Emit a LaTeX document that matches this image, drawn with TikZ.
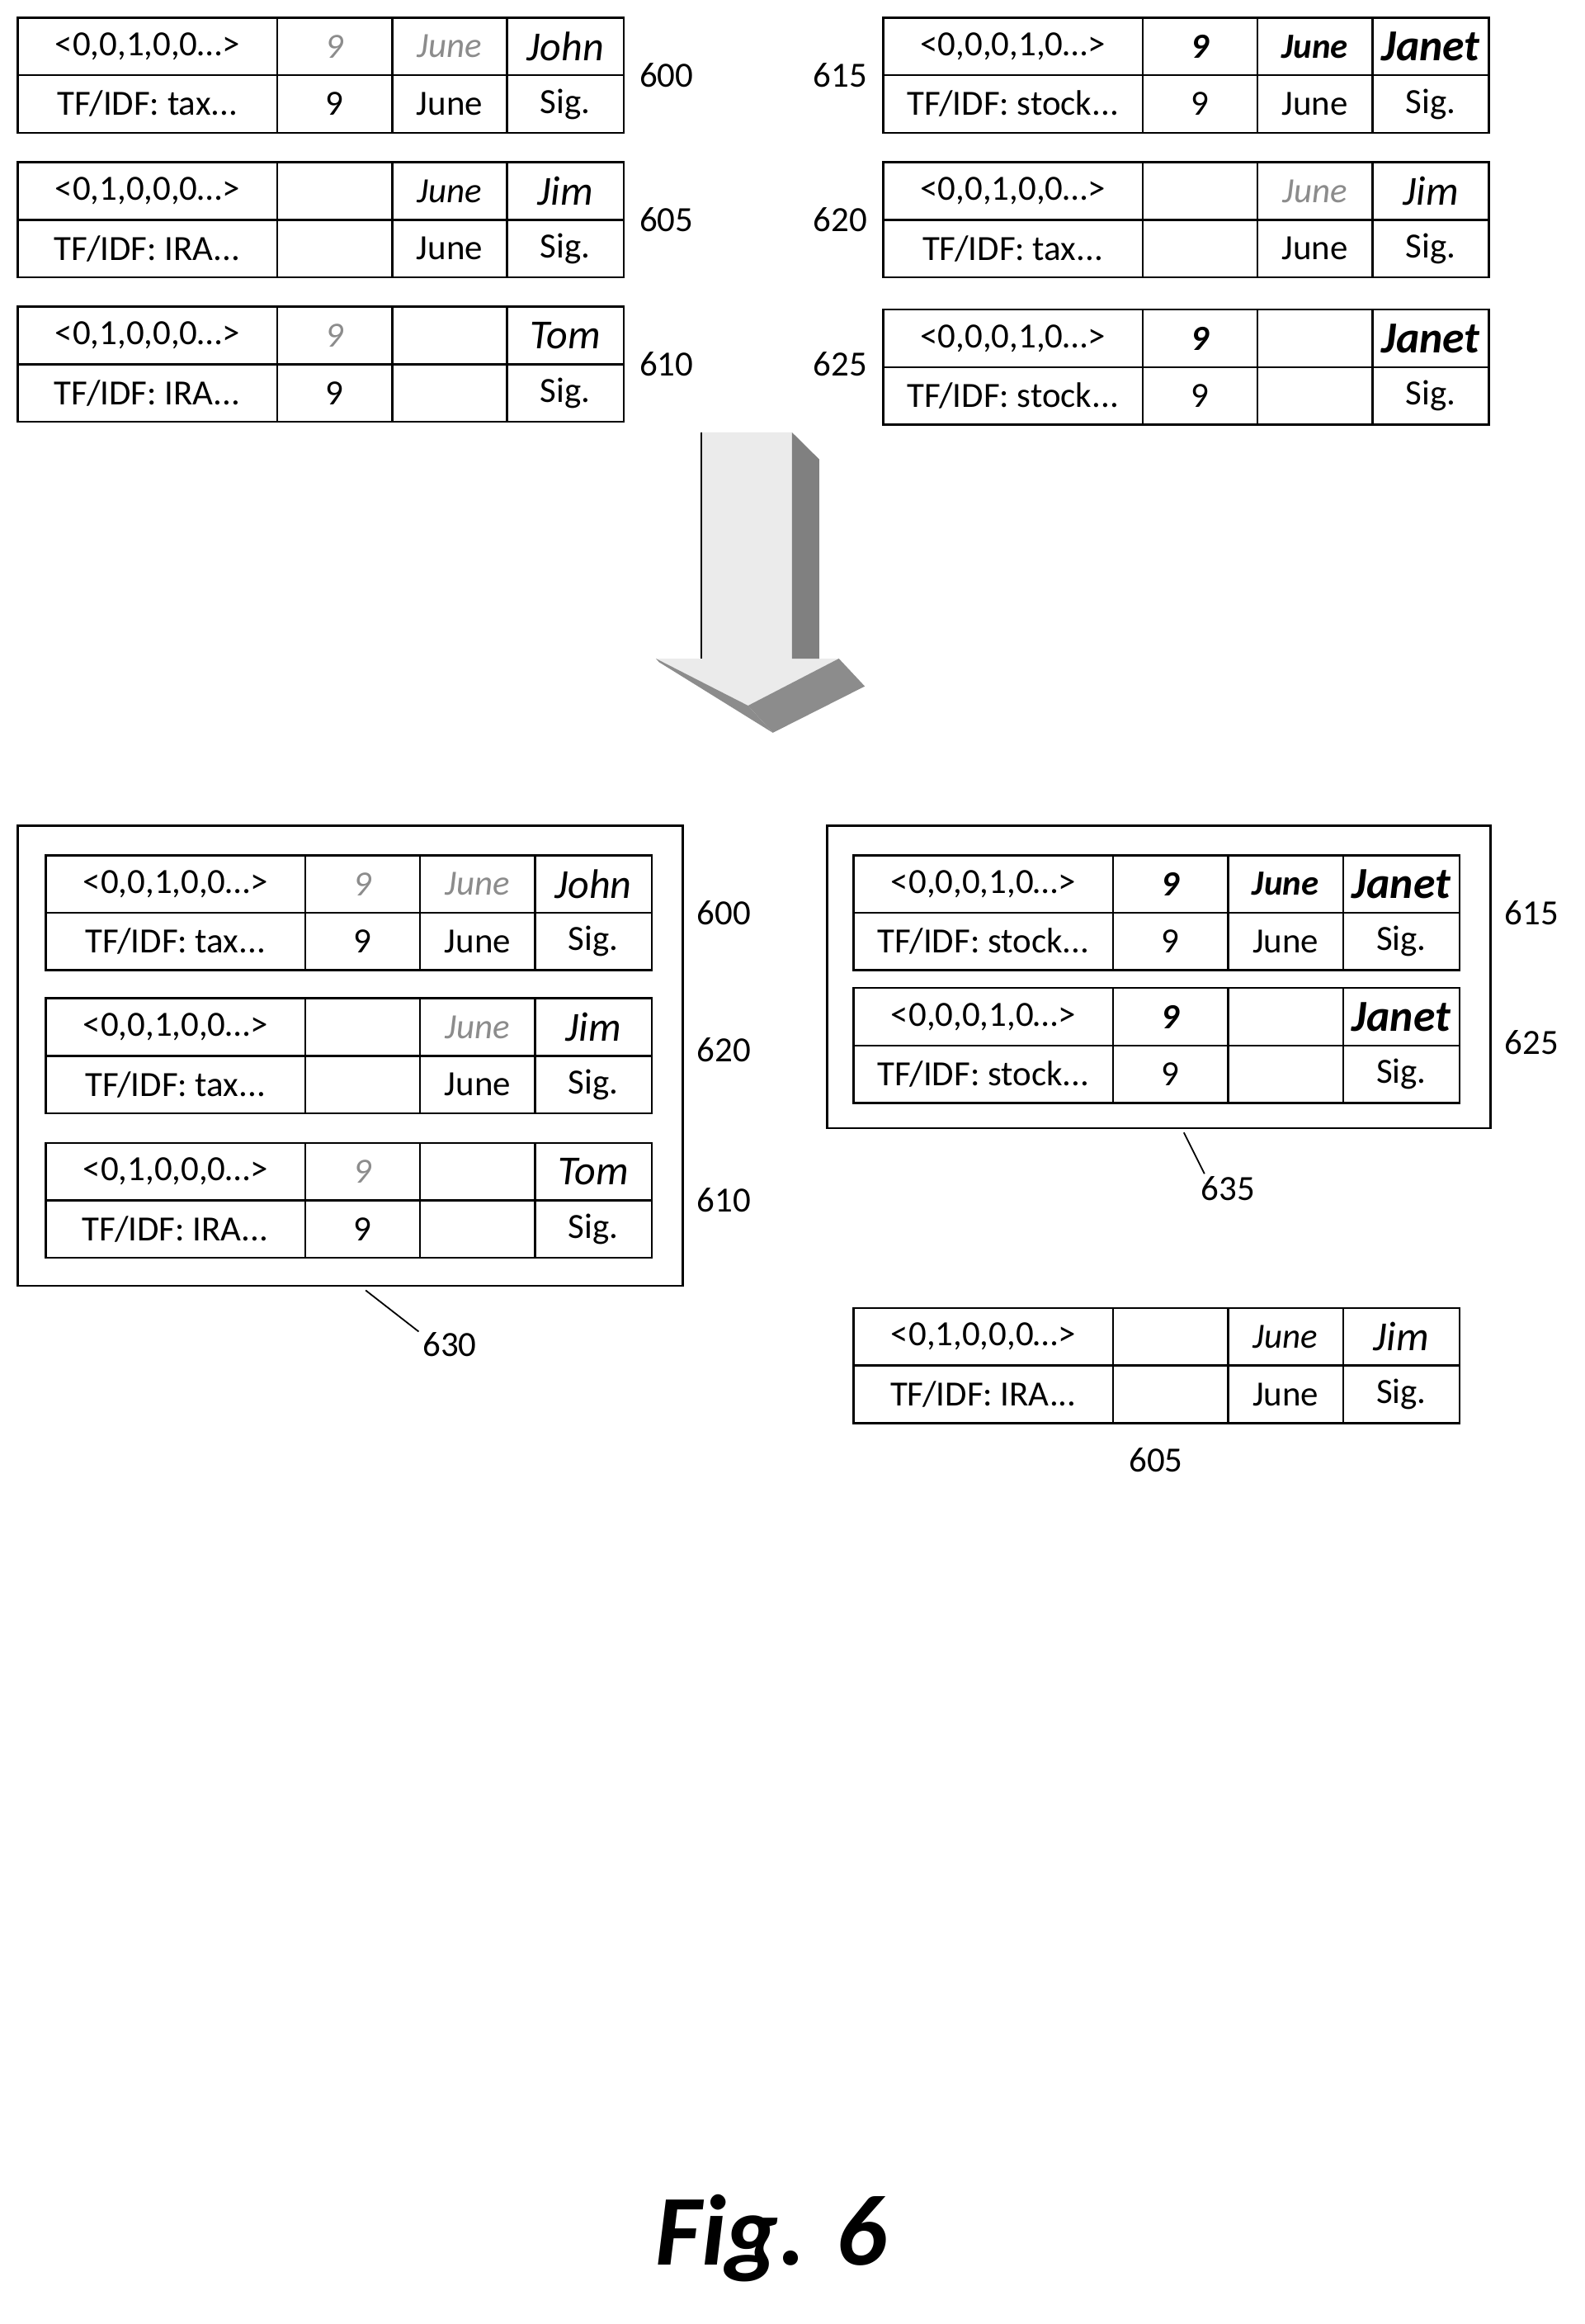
\documentclass[tikz,border=0pt]{standalone}
\usepackage{fontspec}
\setmainfont{Carlito}
\begin{document}
\begin{tikzpicture}[x=0.5pt,y=-0.5pt,
 cell/.style={draw,line width=0.7pt,anchor=north west,inner sep=0pt,outer sep=0pt,minimum height=19.5pt,font=\fontsize{12}{14}\selectfont},
 lbl/.style={font=\fontsize{12}{14}\selectfont},
 grp/.style={draw,line width=0.7pt,outer sep=0pt}]
\useasboundingbox (0,0) rectangle (1075,1576);
\newcommand\mytab[9]{%
 \node[cell,minimum width=88pt] (#1a) at (#2,#3) {#4};
 \node[cell,minimum width=39pt] (#1b) at (#2+176,#3) {#5};
 \node[cell,minimum width=39pt] (#1c) at (#2+254,#3) {#6};
 \node[cell,minimum width=39.5pt] (#1d) at (#2+332,#3) {#7};
 \node[cell,minimum width=88pt] (#1e) at (#2,#3+39) {#8};
 \node[cell,minimum width=39pt] (#1f) at (#2+176,#3+39) {#9};
}
\newcommand\myrest[3]{%
 \node[cell,minimum width=39pt] (#1g) at ([xshift=39pt]#1f.north west) {#2};
 \node[cell,minimum width=39.5pt] (#1h) at ([xshift=39pt]#1g.north west) {#3};
}
% top left
\mytab{t600}{12}{12}{<0,0,1,0,0…>}{\textcolor{black!45}{\itshape 9}}{\textcolor{black!45}{\itshape June}}{\itshape\fontsize{14}{14}\selectfont John}{TF/IDF: tax...}{9}\myrest{t600}{June}{Sig.}
\mytab{t605}{12}{110}{<0,1,0,0,0…>}{}{\itshape June}{\itshape\fontsize{14}{14}\selectfont Jim}{TF/IDF: IRA...}{}\myrest{t605}{June}{Sig.}
\mytab{t610}{12}{208}{<0,1,0,0,0…>}{\textcolor{black!45}{\itshape 9}}{}{\itshape\fontsize{14}{14}\selectfont Tom}{TF/IDF: IRA...}{9}\myrest{t610}{}{Sig.}
% top right
\mytab{t615}{599}{12}{<0,0,0,1,0…>}{\bfseries\itshape 9}{\bfseries\itshape June}{\bfseries\itshape\fontsize{15}{15}\selectfont Janet}{TF/IDF: stock...}{9}\myrest{t615}{June}{Sig.}
\mytab{t620}{599}{110}{<0,0,1,0,0…>}{}{\textcolor{black!45}{\itshape June}}{\itshape\fontsize{14}{14}\selectfont Jim}{TF/IDF: tax...}{}\myrest{t620}{June}{Sig.}
\mytab{t625}{599}{210}{<0,0,0,1,0…>}{\bfseries\itshape 9}{}{\bfseries\itshape\fontsize{15}{15}\selectfont Janet}{TF/IDF: stock...}{9}\myrest{t625}{}{Sig.}
\node[lbl] (l600) at (452,51) {600};
\node[lbl] (l605) at (452,149) {605};
\node[lbl] (l610) at (452,247) {610};
\node[lbl] (l615) at (570,51) {615};
\node[lbl] (l620) at (570,149) {620};
\node[lbl] (l625) at (570,247) {625};
% arrow
\fill[black!8] (475.7,293.2) -- (537.2,293.2) -- (537.2,446.6) -- (569,446.6) -- (507.4,478.5) -- (444.9,446.6) -- (475.7,446.6) -- cycle;
\fill[black!50] (537.2,293.2) -- (555.7,311.5) -- (555.7,446.6) -- (537.2,446.6) -- cycle;
\fill[black!45] (569,446.6) -- (586.6,465.4) -- (524.2,496.9) -- (507.4,478.5) -- cycle;
\fill[black!45] (444.9,446.6) -- (507.4,478.5) -- (524.2,496.9) -- (447,449) -- cycle;
\draw[line width=0.5pt] (475.7,293.2) -- (475.7,446.6);
% bottom groups
\node[grp,anchor=north west,minimum width=225.5pt,minimum height=156pt,inner sep=0pt] (g630) at (12,560) {};
\mytab{b600}{31}{580}{<0,0,1,0,0…>}{\textcolor{black!45}{\itshape 9}}{\textcolor{black!45}{\itshape June}}{\itshape\fontsize{14}{14}\selectfont John}{TF/IDF: tax...}{9}\myrest{b600}{June}{Sig.}
\mytab{b620}{31}{677}{<0,0,1,0,0…>}{}{\textcolor{black!45}{\itshape June}}{\itshape\fontsize{14}{14}\selectfont Jim}{TF/IDF: tax...}{}\myrest{b620}{June}{Sig.}
\mytab{b610}{31}{775}{<0,1,0,0,0…>}{\textcolor{black!45}{\itshape 9}}{}{\itshape\fontsize{14}{14}\selectfont Tom}{TF/IDF: IRA...}{9}\myrest{b610}{}{Sig.}
\node[grp,anchor=north west,minimum width=225pt,minimum height=102.5pt,inner sep=0pt] (g635) at (561,560) {};
\mytab{b615}{579}{580}{<0,0,0,1,0…>}{\bfseries\itshape 9}{\bfseries\itshape June}{\bfseries\itshape\fontsize{15}{15}\selectfont Janet}{TF/IDF: stock...}{9}\myrest{b615}{June}{Sig.}
\mytab{b625}{579}{670}{<0,0,0,1,0…>}{\bfseries\itshape 9}{}{\bfseries\itshape\fontsize{15}{15}\selectfont Janet}{TF/IDF: stock...}{9}\myrest{b625}{}{Sig.}
\mytab{b605}{579}{887}{<0,1,0,0,0…>}{}{\itshape June}{\itshape\fontsize{14}{14}\selectfont Jim}{TF/IDF: IRA...}{}\myrest{b605}{June}{Sig.}
\node[lbl] (m600) at (491,619) {600};
\node[lbl] (m620) at (491,712) {620};
\node[lbl] (m610) at (491,814) {610};
\node[lbl] (m615) at (1039,619) {615};
\node[lbl] (m625) at (1039,707) {625};
\node[lbl] (m605) at (784,990) {605};
\node[lbl] (m630) at (305,912) {630};
\node[lbl] (m635) at (833,806) {635};
\coordinate (c630) at (248,875);
\coordinate (c630e) at (284,903);
\coordinate (c635) at (803,768);
\coordinate (c635e) at (817,796);
\draw[line width=0.5pt] (c630) -- (c630e);
\draw[line width=0.5pt] (c635) -- (c635e);
\node[font=\fontsize{34}{36}\selectfont\bfseries\itshape] (fig) at (523,1518) {Fig. 6};
\end{tikzpicture}
\end{document}
